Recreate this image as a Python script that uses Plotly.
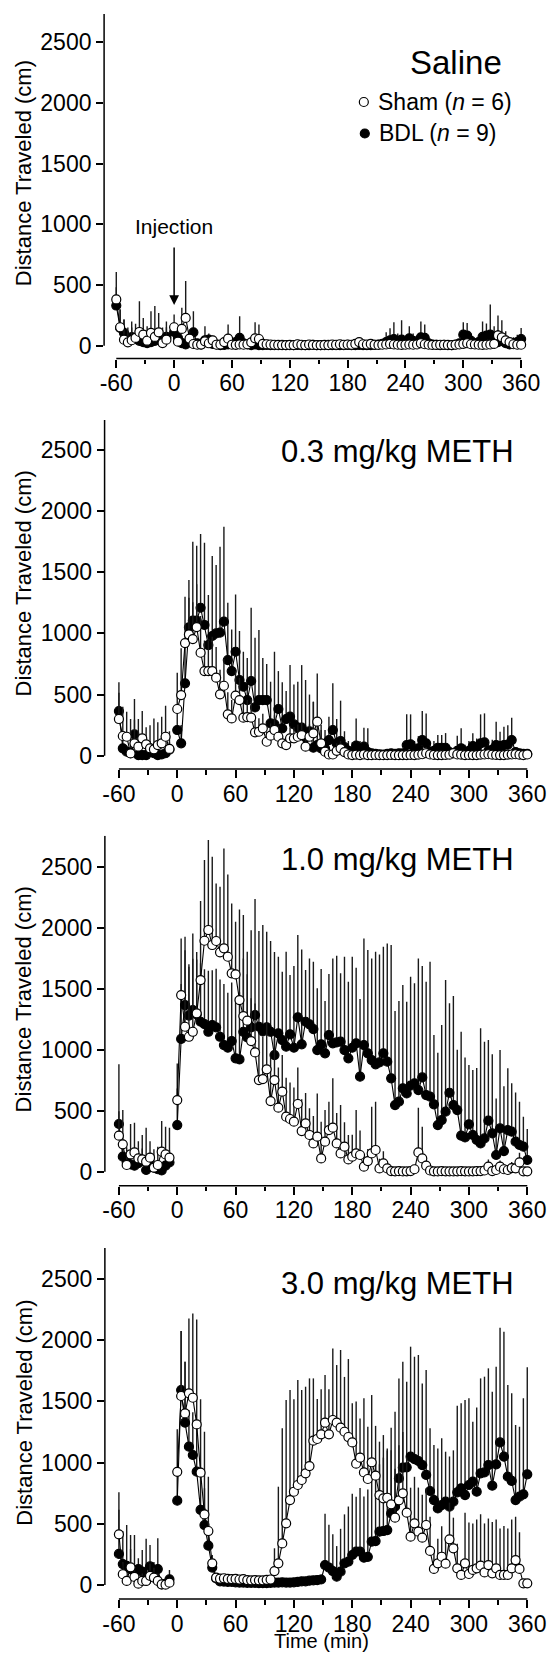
import plotly.graph_objects as go

W, H = 559, 1655
# the page body keeps the browser's default 8 px margin, so the figure is drawn 8 px in
OX, OY = 8, 8
FW, FH = W - OX, H - OY
FONT = "Arial, Liberation Sans, Helvetica, sans-serif"

# ---------------- time grid (min) ----------------
PRE_T = [-60, -56, -52, -48, -44, -40, -36, -32, -28, -24, -20, -16, -12, -8]
POST_T = [0, 4, 8, 12, 16, 20, 24, 28, 32, 36,
          40, 44, 48, 52, 56, 60, 64, 68, 72, 76,
          80, 84, 88, 92, 96, 100, 104, 108, 112, 116,
          120, 124, 128, 132, 136, 140, 144, 148, 152, 156,
          160, 164, 168, 172, 176, 180, 184, 188, 192, 196,
          200, 204, 208, 212, 216, 220, 224, 228, 232, 236,
          240, 244, 248, 252, 256, 260, 264, 268, 272, 276,
          280, 284, 288, 292, 296, 300, 304, 308, 312, 316,
          320, 324, 328, 332, 336, 340, 344, 348, 352, 356,
          360]

X_TICKS = [-60, 0, 60, 120, 180, 240, 300, 360]
X_TICK_LABELS = ["-60", "0", "60", "120", "180", "240", "300", "360"]
X_MINOR = [-30, 30, 90, 150, 210, 270, 330]
Y_TICKS = [0, 500, 1000, 1500, 2000, 2500]
Y_TICK_LABELS = ["0", "500", "1000", "1500", "2000", "2500"]

PANEL_TITLES = ["Saline", "0.3 mg/kg METH", "1.0 mg/kg METH", "3.0 mg/kg METH"]
LEGEND_LABELS = ["Sham (<i>n</i> = 6)", "BDL (<i>n</i> = 9)"]
Y_TITLE = "Distance Traveled (cm)"
X_TITLE = "Time (min)"
INJECTION_LABEL = "Injection"

# ---------------- Saline ----------------
saline_sham = [381, 152, 50, 28, 45, 64, 113, 91, 41, 105, 72, 110, 22, 50,
               152, 33, 138, 229, 58, 14, 8, 9, 36, 20,
               44, 8, 10, 30, 58, 8, 7, 10, 8, 12,
               28, 61, 55, 15, 12, 10, 8, 6, 5, 5,
               6, 5, 12, 8, 5, 10, 6, 5, 5, 6,
               5, 10, 8, 12, 8, 10, 8, 15, 30, 12,
               10, 15, 8, 6, 8, 10, 15, 10, 8, 6,
               8, 10, 8, 10, 20, 12, 8, 6, 6, 8,
               8, 6, 5, 8, 10, 15, 20, 12, 10, 8,
               6, 8, 10, 15, 85, 69, 44, 30, 12, 8,
               8]
saline_sham_sem = [227, 148, 165, 122, 155, 116, 254, 138, 119, 179, 254, 160, 128, 150,
                   105, 40, 174, 304, 60, 20, 15, 15, 40, 30,
                   40, 10, 15, 30, 116, 15, 12, 15, 10, 15,
                   40, 132, 119, 20, 15, 12, 10, 8, 8, 8,
                   8, 8, 15, 10, 8, 12, 8, 8, 8, 8,
                   8, 12, 10, 15, 10, 12, 10, 20, 40, 15,
                   12, 20, 10, 8, 10, 12, 20, 12, 10, 8,
                   10, 12, 10, 12, 25, 15, 10, 8, 8, 10,
                   10, 8, 8, 10, 12, 20, 25, 15, 12, 10,
                   8, 10, 12, 20, 164, 141, 75, 40, 15, 10,
                   10]
saline_bdl = [331, 146, 105, 60, 70, 55, 40, 30, 22, 30, 40, 50, 44, 72,
              113, 64, 22, 10, 44, 110, 20, 10, 44, 50,
              15, 10, 5, 6, 10, 15, 30, 64, 20, 10,
              5, 10, 5, 4, 6, 5, 4, 5, 6, 4,
              5, 4, 6, 5, 4, 5, 6, 5, 4, 5,
              6, 5, 4, 5, 5, 6, 4, 5, 6, 5,
              4, 5, 6, 10, 15, 30, 44, 55, 40, 50,
              30, 61, 40, 20, 69, 64, 20, 10, 8, 5,
              6, 5, 4, 10, 20, 91, 83, 40, 20, 30,
              72, 83, 91, 40, 30, 40, 22, 10, 20, 30,
              55]
saline_bdl_sem = [150, 150, 110, 60, 80, 70, 50, 40, 30, 40, 50, 60, 50, 80,
                  80, 40, 30, 15, 60, 174, 30, 15, 116, 50,
                  20, 15, 8, 8, 15, 20, 40, 179, 30, 15,
                  8, 15, 8, 6, 8, 8, 6, 8, 8, 6,
                  8, 6, 8, 8, 6, 8, 8, 8, 6, 8,
                  8, 8, 6, 8, 8, 8, 6, 8, 8, 8,
                  6, 8, 8, 15, 25, 80, 100, 138, 60, 160,
                  50, 99, 60, 30, 131, 110, 30, 15, 10, 8,
                  8, 8, 6, 15, 30, 102, 105, 60, 30, 40,
                  128, 100, 249, 120, 100, 80, 60, 20, 50, 60,
                  91]

# ---------------- 0.3 mg/kg ----------------
m03_sham = [300, 161, 155, 19, 101, 74, 142, 93, 60, 52, 87, 101, 155, 55,
            382, 496, 921, 992, 954, 1052, 842, 692, 692, 692,
            638, 502, 572, 338, 305, 491, 455, 311, 316, 311,
            191, 196, 224, 114, 164, 210, 155, 101, 87, 142,
            142, 155, 169, 74, 155, 183, 278, 101, 33, 10,
            10, 40, 60, 30, 10, 5, 8, 5, 10, 5,
            4, 6, 5, 4, 5, 6, 5, 4, 5, 5,
            6, 5, 8, 12, 20, 10, 6, 5, 5, 6,
            8, 20, 10, 8, 5, 6, 5, 5, 8, 10,
            12, 8, 6, 5, 5, 8, 10, 12, 8, 5,
            10]
m03_sham_sem = [300, 239, 205, 281, 362, 226, 223, 139, 190, 253, 186, 218, 254, 145,
                297, 382, 379, 300, 300, 350, 300, 250, 250, 280,
                250, 200, 220, 180, 150, 200, 180, 150, 140, 150,
                100, 110, 120, 80, 100, 120, 90, 70, 60, 90,
                90, 100, 100, 60, 100, 258, 395, 150, 80, 30,
                30, 60, 60, 40, 15, 10, 12, 10, 15, 10,
                8, 10, 10, 8, 10, 10, 8, 8, 10, 10,
                10, 10, 15, 20, 30, 15, 10, 10, 10, 10,
                15, 30, 15, 12, 10, 10, 10, 10, 15, 15,
                20, 15, 10, 10, 10, 15, 15, 20, 15, 10,
                15]
m03_bdl = [365, 60, 33, 20, 174, 5, 5, 5, 60, 20, 5, 10, 20, 50,
           210, 101, 592, 1050, 1104, 1104, 1210, 1069, 905, 979,
           1000, 1006, 1096, 782, 692, 850, 619, 564, 455, 611,
           395, 455, 455, 455, 264, 256, 382, 224, 300, 319,
           256, 229, 229, 150, 200, 65, 87, 60, 60, 128,
           210, 100, 120, 70, 40, 30, 82, 40, 74, 30,
           20, 15, 12, 10, 15, 20, 15, 20, 20, 87,
           93, 40, 60, 128, 101, 30, 40, 65, 65, 65,
           30, 20, 40, 60, 30, 40, 79, 60, 101, 109,
           40, 50, 87, 79, 87, 90, 128, 30, 20, 15,
           15]
m03_bdl_sem = [150, 60, 50, 40, 120, 30, 30, 30, 60, 40, 20, 30, 40, 60,
               150, 150, 300, 387, 646, 613, 603, 673, 409, 654,
               559, 703, 777, 469, 341, 469, 401, 286, 345, 599,
               570, 573, 345, 295, 341, 594, 310, 376, 229, 422,
               327, 376, 512, 469, 300, 376, 200, 150, 150, 191,
               382, 200, 330, 130, 80, 80, 223, 80, 155, 194,
               30, 30, 25, 20, 25, 30, 25, 30, 30, 251,
               245, 80, 100, 237, 245, 60, 80, 105, 105, 120,
               50, 40, 123, 164, 60, 80, 104, 80, 237, 237,
               60, 80, 191, 117, 150, 160, 183, 40, 30, 20,
               20]

# ---------------- 1.0 mg/kg ----------------
m10_sham = [295, 224, 55, 142, 158, 109, 101, 82, 115, 33, 55, 164, 142, 115,
            587, 1448, 1188, 1106, 1147, 1298, 1571, 1893, 1981, 1858,
            1891, 1798, 1831, 1762, 1626, 1617, 1407, 1276, 1238, 1071,
            978, 751, 759, 839, 579, 751, 525, 656, 451, 432,
            410, 555, 333, 396, 301, 232, 287, 109, 246, 341,
            361, 232, 150, 205, 101, 123, 150, 137, 41, 87,
            150, 178, 27, 68, 27, 5, 3, 4, 2, 3,
            5, 20, 158, 109, 49, 10, 3, 2, 4, 3,
            3, 2, 3, 4, 3, 2, 3, 4, 5, 10,
            41, 5, 14, 41, 20, 14, 30, 28, 76, 3,
            3]
m10_sham_sem = [200, 281, 145, 249, 244, 141, 199, 279, 135, 150, 150, 251, 227, 246,
                300, 464, 738, 594, 806, 502, 647, 661, 737, 724,
                472, 538, 819, 675, 573, 432, 743, 828, 380, 350,
                400, 380, 350, 380, 360, 340, 330, 300, 320, 300,
                280, 300, 260, 250, 220, 224, 355, 300, 259, 233,
                404, 250, 396, 200, 200, 180, 355, 200, 100, 100,
                383, 396, 80, 100, 60, 20, 10, 10, 10, 10,
                10, 20, 367, 260, 60, 20, 10, 10, 10, 10,
                10, 10, 10, 10, 10, 10, 10, 10, 15, 20,
                60, 15, 30, 50, 40, 30, 50, 40, 80, 10,
                10]
m10_bdl = [391, 123, 80, 60, 49, 70, 90, 14, 60, 33, 20, 10, 50, 76,
           382, 1088, 1366, 1280, 1325, 1290, 1229, 1210, 1147, 1202,
           1183, 1106, 1038, 1016, 1071, 929, 920, 1147, 1100, 1183,
           1284, 1188, 1150, 1183, 1147, 956, 1134, 1079, 1025, 1126,
           1016, 1265, 1044, 1229, 1208, 1169, 997, 1044, 970, 1120,
           1052, 1060, 1066, 997, 929, 1016, 1052, 779, 1038, 970,
           915, 880, 896, 970, 902, 765, 546, 574, 683, 642,
           705, 724, 669, 773, 628, 615, 552, 382, 423, 492,
           647, 546, 505, 295, 281, 388, 301, 260, 232, 273,
           418, 314, 137, 355, 169, 341, 328, 246, 219, 205,
           96]
m10_bdl_sem = [489, 150, 100, 80, 60, 80, 100, 40, 80, 50, 40, 30, 70, 100,
               300, 450, 450, 400, 420, 450, 480, 450, 500, 450,
               480, 470, 500, 450, 480, 500, 550, 600, 703, 797,
               951, 785, 872, 784, 744, 844, 628, 560, 778, 486,
               670, 675, 778, 424, 540, 552, 506, 617, 429, 500,
               696, 710, 560, 765, 628, 746, 620, 636, 874, 847,
               833, 923, 885, 874, 969, 1093, 771, 825, 847, 751,
               893, 820, 1079, 913, 929, 1106, 568, 593, 779, 1079,
               733, 894, 495, 852, 656, 486, 532, 590, 943, 793,
               661, 648, 463, 642, 531, 506, 396, 404, 355, 245,
               254]

# ---------------- 3.0 mg/kg ----------------
m30_sham = [414, 88, 33, 144, 66, 11, 33, 33, 75, 61, 33, 5, 3, 19,
            925, 1544, 1402, 1566, 1530, 1312, 918, 577, 441, 177,
            60, 52, 55, 50, 48, 50, 45, 48, 40, 38,
            40, 38, 38, 42, 45, 114, 177, 340, 504, 694,
            762, 817, 858, 912, 972, 1179, 1193, 1231, 1326, 1231,
            1348, 1326, 1285, 1252, 1209, 1165, 991, 1040, 920, 866,
            1002, 893, 735, 708, 713, 659, 550, 692, 749, 591,
            395, 504, 436, 387, 490, 278, 131, 177, 231, 174,
            373, 300, 136, 82, 177, 90, 123, 136, 158, 103,
            163, 95, 136, 82, 82, 82, 136, 204, 131, 14,
            14]
m30_sham_sem = [200, 100, 60, 150, 80, 40, 60, 60, 100, 80, 60, 20, 20, 40,
                347, 531, 422, 612, 689, 858, 599, 676, 444, 68,
                30, 20, 20, 18, 15, 18, 15, 15, 12, 12,
                12, 12, 12, 15, 20, 186, 626, 940, 1007, 899,
                755, 858, 735, 708, 716, 509, 327, 369, 389, 369,
                585, 471, 635, 448, 637, 319, 509, 321, 605, 427,
                550, 407, 436, 517, 403, 441, 400, 450, 500, 450,
                400, 380, 360, 350, 300, 280, 150, 200, 250, 200,
                300, 250, 200, 120, 414, 420, 380, 400, 420, 400,
                380, 420, 400, 380, 400, 380, 400, 354, 300, 30,
                30]
m30_bdl = [254, 171, 157, 130, 116, 130, 110, 33, 152, 88, 130, 5, 10, 47,
           689, 1593, 1326, 1130, 1062, 926, 613, 490, 321, 142,
           54, 30, 28, 25, 25, 22, 20, 20, 18, 18,
           18, 15, 15, 15, 18, 20, 20, 22, 20, 20,
           22, 25, 30, 30, 35, 38, 40, 45, 163, 142,
           114, 68, 109, 177, 191, 245, 272, 272, 223, 230,
           354, 359, 436, 441, 449, 585, 640, 871, 959, 961,
           1048, 1029, 1013, 980, 899, 768, 694, 626, 653, 681,
           640, 681, 757, 790, 735, 817, 844, 762, 912, 920,
           980, 811, 986, 1165, 1048, 885, 850, 694, 722, 741,
           904]
m30_bdl_sem = [503, 270, 333, 278, 292, 88, 176, 345, 175, 100, 251, 40, 40, 76,
               200, 482, 498, 300, 350, 400, 350, 300, 200, 60,
               20, 12, 10, 10, 10, 10, 8, 8, 8, 8,
               8, 8, 8, 8, 8, 10, 10, 10, 10, 10,
               12, 12, 15, 15, 15, 20, 30, 40, 420, 350,
               300, 250, 350, 400, 450, 500, 450, 520, 500, 550,
               600, 650, 550, 600, 650, 700, 776, 817, 865, 700,
               899, 836, 866, 667, 857, 512, 450, 490, 545, 408,
               410, 419, 708, 694, 776, 708, 490, 688, 776, 782,
               790, 768, 798, 937, 1021, 749, 716, 613, 571, 784,
               874]

PANELS = [
    (saline_sham, saline_sham_sem, saline_bdl, saline_bdl_sem),
    (m03_sham, m03_sham_sem, m03_bdl, m03_bdl_sem),
    (m10_sham, m10_sham_sem, m10_bdl, m10_bdl_sem),
    (m30_sham, m30_sham_sem, m30_bdl, m30_bdl_sem),
]

# ---------------- pixel geometry of each panel (page pixels) ----------------
# (y-axis x, x of t=-60, x of t=360, plot right, y of 0, y of 2500, x-axis y, axis top)
GEOM = [
    (102.5, 115.0, 530.4, 540.0, 345.7, 42.2, 358.5, 14.0),
    (103.0, 117.7, 536.7, 546.0, 755.7, 450.0, 769.0, 420.0),
    (103.3, 117.7, 536.7, 546.0, 1171.7, 866.7, 1185.7, 835.7),
    (103.3, 117.7, 536.7, 546.0, 1585.0, 1279.0, 1599.0, 1248.0),
]
TITLE_POS = [(513, 62, 33), (525, 451.5, 31), (525, 859.5, 31), (525, 1283.5, 31)]
YTITLE_CY = [173.5, 583.7, 999.7, 1413.0]


def fx(px):
    return (px - OX) / FW


def fy(py):
    return 1 - (py - OY) / FH


NT = len(PRE_T) + len(POST_T)


def split(vals, fill):
    vals = list(vals)[:NT]
    return vals[:len(PRE_T)] + [fill] + vals[len(PRE_T):]


X_ALL = PRE_T + [None] + POST_T

fig = go.Figure()
layout = dict(width=FW, height=FH, margin=dict(l=0, r=0, t=0, b=0), autosize=False,
              paper_bgcolor="white", plot_bgcolor="rgba(0,0,0,0)", showlegend=False,
              font=dict(family=FONT, color="black"))
shapes = []
annotations = []

for i, (sham, sham_sem, bdl, bdl_sem) in enumerate(PANELS):
    axl, xm60, x360, right, y0, y2500, xline, top = GEOM[i]
    ppm = (x360 - xm60) / 420.0
    xr = [-60 - (xm60 - axl) / ppm, 360 + (right - x360) / ppm]
    ppv = (y0 - y2500) / 2500.0
    yr = [-(xline - y0) / ppv, (y0 - top) / ppv]
    n = "" if i == 0 else str(i + 1)
    xa, ya = "x" + n, "y" + n
    layout["xaxis" + n] = dict(
        domain=[fx(axl), fx(right)], range=xr, anchor=ya, showline=False, showgrid=False,
        zeroline=False, ticks="outside", ticklen=8, tickwidth=1.5, tickcolor="black",
        tickmode="array", tickvals=X_TICKS, ticktext=X_TICK_LABELS, ticklabelstandoff=-4,
        tickfont=dict(family=FONT, size=23, color="black"),
        minor=dict(ticks="outside", ticklen=4.5, tickwidth=1.5, tickcolor="black",
                   tickmode="array", tickvals=X_MINOR, showgrid=False),
        fixedrange=True)
    layout["yaxis" + n] = dict(
        domain=[fy(xline), fy(top)], range=yr, anchor=xa, showline=False,
        showgrid=False, zeroline=False, ticks="outside", ticklen=7, tickwidth=1.5,
        tickcolor="black", tickmode="array", tickvals=Y_TICKS, ticktext=Y_TICK_LABELS,
        tickfont=dict(family=FONT, size=23, color="black"), fixedrange=True)

    # axis lines
    shapes.append(dict(type="line", xref=xa + " domain", yref=ya, x0=0, x1=0, y0=0, y1=yr[1],
                       line=dict(color="black", width=1.5)))
    shapes.append(dict(type="line", xref=xa, yref=ya + " domain", x0=-60, x1=360, y0=0, y1=0,
                       line=dict(color="black", width=1.5)))

    for vals, sems, filled in ((bdl, bdl_sem, True), (sham, sham_sem, False)):
        yv = split(vals, None)
        ev = split(sems, 0)
        fig.add_trace(go.Scatter(
            x=X_ALL, y=yv, mode="lines+markers", xaxis=xa, yaxis=ya, cliponaxis=False,
            connectgaps=False, hoverinfo="skip",
            line=dict(color="black", width=1.1),
            marker=dict(symbol="circle", size=9, color="black" if filled else "white",
                        line=dict(color="black", width=1.2)),
            error_y=dict(type="data", symmetric=False, array=ev, arrayminus=[0] * len(ev),
                         color="#1a1a1a", thickness=1.4, width=0)))

    # panel title
    tx, ty, tsize = TITLE_POS[i]
    annotations.append(dict(text=PANEL_TITLES[i], xref="paper", yref="paper", x=fx(tx), y=fy(ty),
                            xanchor="right", yanchor="middle", showarrow=False,
                            font=dict(family=FONT, size=tsize, color="black")))
    # y title
    annotations.append(dict(text=Y_TITLE, xref="paper", yref="paper", x=fx(20.0),
                            y=fy(YTITLE_CY[i]), xanchor="center", yanchor="middle",
                            textangle=-90, showarrow=False,
                            font=dict(family=FONT, size=22, color="black")))

# x title
annotations.append(dict(text=X_TITLE, xref="paper", yref="paper", x=fx(326), y=fy(1641),
                        xanchor="center", yanchor="middle", showarrow=False,
                        font=dict(family=FONT, size=20, color="black")))

# injection label + arrow (panel 1)
annotations.append(dict(text=INJECTION_LABEL, xref="x", yref="paper", x=0, y=fy(226),
                        xanchor="center", yanchor="middle", showarrow=False,
                        font=dict(family=FONT, size=21, color="black")))
annotations.append(dict(text="", xref="x", yref="y", x=0, y=335, axref="x", ayref="y",
                        ax=0, ay=821, showarrow=True, arrowhead=2, arrowsize=1.3,
                        arrowwidth=1.5, arrowcolor="black", standoff=0))

# legend (panel 1)
LEG_ROWS = [(369, 102.0, False), (370, 133.5, True)]
for (cx, cy, filled), label in zip(LEG_ROWS, LEGEND_LABELS):
    shapes.append(dict(type="circle", xref="paper", yref="paper", xsizemode="pixel",
                       ysizemode="pixel", xanchor=fx(cx), yanchor=fy(cy),
                       x0=-4.5, x1=4.5, y0=-4.5, y1=4.5,
                       fillcolor="black" if filled else "white",
                       line=dict(color="black", width=1.2)))
    annotations.append(dict(text=label, xref="paper", yref="paper", x=fx(cx + 13), y=fy(cy),
                            xanchor="left", yanchor="middle", showarrow=False,
                            font=dict(family=FONT, size=23, color="black")))

layout["shapes"] = shapes
layout["annotations"] = annotations
fig.update_layout(**layout)
fig.write_html("out.html")
